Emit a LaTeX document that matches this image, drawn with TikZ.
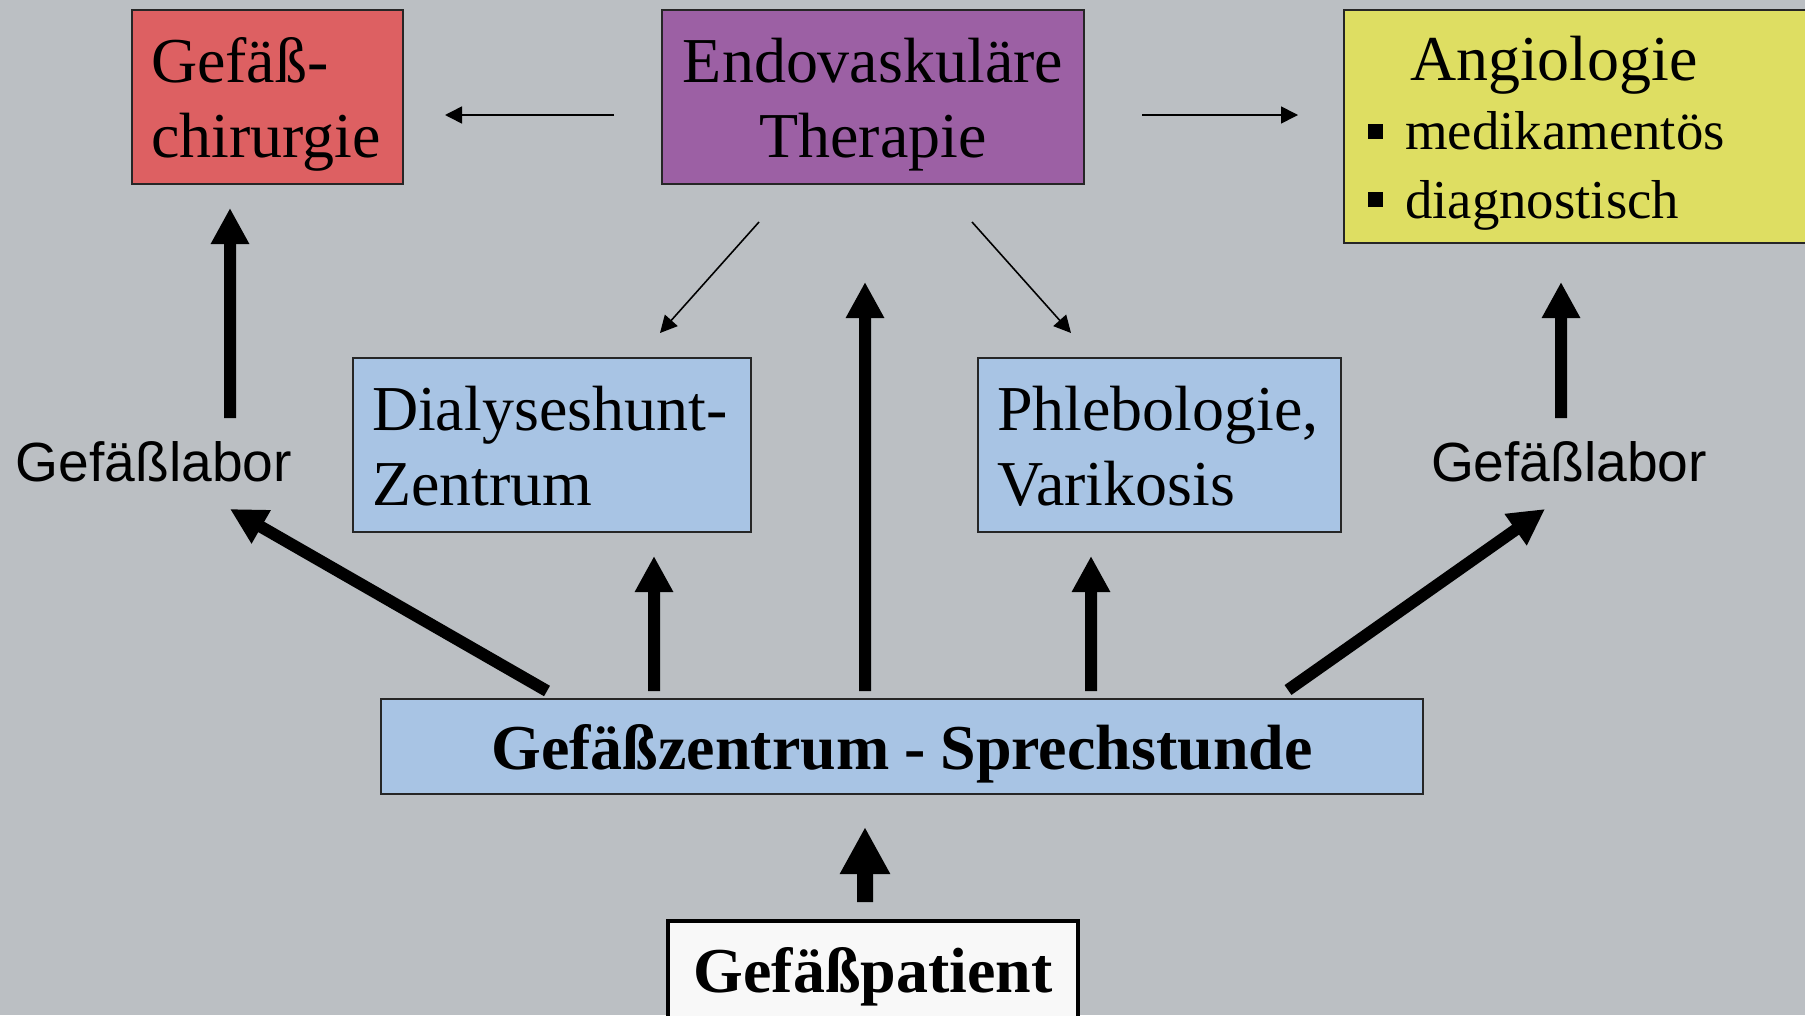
\documentclass[tikz,border=0pt]{standalone}
\usepackage{fontspec}
\setmainfont{Liberation Serif}
\setsansfont{Liberation Sans}
\usetikzlibrary{arrows.meta}
\definecolor{slidegray}{RGB}{187,191,195}
\definecolor{chircol}{RGB}{221,96,98}
\definecolor{endocol}{RGB}{156,96,164}
\definecolor{angiocol}{RGB}{222,222,98}
\definecolor{zentrumcol}{RGB}{168,196,228}
\definecolor{patcol}{RGB}{248,248,248}
\newcommand{\sqbullet}{\rule[0.11cm]{0.15cm}{0.15cm}\hspace{0.22cm}}
% struts so that text sits at the top like in the slide
\newcommand{\hstrut}{\rule{0pt}{0.62cm}}
\newcommand{\dstrut}{\rule[-0.16cm]{0pt}{0.16cm}}

\begin{document}
\begin{tikzpicture}
\useasboundingbox (0,0) rectangle (18.05,10.15);
\fill[slidegray] (0,0) rectangle (18.05,10.15);

\begin{scope}[every node/.style={draw=black!85,line width=0.5pt,minimum height=1.74cm,
              inner xsep=0.19cm,inner ysep=0pt,font=\fontsize{18.2}{21.5}\selectfont}]
    \node[fill=chircol,text width=2.33cm,align=left] (chir) at (2.675,9.18) {\hstrut Gefäß-\\chirurgie\dstrut};
    \node[fill=endocol,text width=3.84cm,align=center] (endo) at (8.73,9.18) {\hstrut Endovaskuläre\\Therapie\dstrut};
    \node[fill=angiocol,text width=4.3cm,minimum height=2.33cm,align=left,inner xsep=0.24cm,
          font=\fontsize{18.2}{19.5}\selectfont] (angio) at (15.83,8.885)
          {\hstrut\hspace*{0.42cm}Angiologie\\{\fontsize{15.6}{19.5}\selectfont\sqbullet medikamentös\\\sqbullet diagnostisch\dstrut}};
    \node[fill=zentrumcol,text width=3.6cm,align=left] (dial) at (5.52,5.70) {\hstrut Dialyseshunt-\\Zentrum\dstrut};
    \node[fill=zentrumcol,text width=3.25cm,align=left] (phleb) at (11.595,5.70) {\hstrut Phlebologie,\\Varikosis\dstrut};
    \node[fill=zentrumcol,text width=10.04cm,minimum height=0.95cm,align=center,
          font=\bfseries\fontsize{18.2}{21.5}\selectfont] (sprech) at (9.02,2.685)
          {\hstrut Gefäßzentrum\hspace{0.15cm}-\hspace{0.15cm}Sprechstunde\dstrut};
    \node[fill=patcol,line width=1.4pt,draw=black,text width=3.72cm,minimum height=1.12cm,align=center,
          font=\bfseries\fontsize{18.2}{21.5}\selectfont] (pat) at (8.73,0.38) {Gefäßpatient};
\end{scope}

\begin{scope}[every node/.style={inner sep=0pt,font=\sffamily\fontsize{15.7}{18}\selectfont}]
    \node (labL) at (1.54,5.53) {Gefäßlabor};
    \node (labR) at (15.69,5.53) {Gefäßlabor};
\end{scope}

% thin arrows from the endovascular box
\begin{scope}[>={Triangle[width=0.17cm,length=0.17cm]}, line width=0.45pt]
    \path [->] ([shift={(-2.59,-0.18)}]endo.center) edge ([shift={(1.775,-0.18)}]chir.center);
    \path [->] ([shift={(2.69,-0.18)}]endo.center) edge ([shift={(-2.85,0.115)}]angio.center);
    \path [->] ([shift={(-1.14,-1.25)}]endo.center) edge ([shift={(1.08,1.12)}]dial.center);
    \path [->] ([shift={(0.99,-1.25)}]endo.center) edge ([shift={(-0.885,1.12)}]phleb.center);
\end{scope}

% thick arrows
\begin{scope}[>={Triangle[width=0.36cm,length=0.36cm]}, line width=0.12cm]
    \path [->] ([shift={(0.76,0.44)}]labL.center) edge ([shift={(-0.375,-1.11)}]chir.center);
    \path [->] ([shift={(-0.08,0.44)}]labR.center) edge ([shift={(-0.22,-1.555)}]angio.center);
    \path [->] ([shift={(-3.55,0.555)}]sprech.center) edge ([shift={(0.76,-0.47)}]labL.center);
    \path [->] ([shift={(-2.48,0.555)}]sprech.center) edge ([shift={(1.02,-1.11)}]dial.center);
    \path [->] ([shift={(-0.37,0.555)}]sprech.center) edge ([shift={(-0.08,-1.85)}]endo.center);
    \path [->] ([shift={(1.89,0.555)}]sprech.center) edge ([shift={(-0.685,-1.11)}]phleb.center);
    \path [->] ([shift={(3.86,0.565)}]sprech.center) edge ([shift={(-0.24,-0.47)}]labR.center);
\end{scope}

\begin{scope}[>={Triangle[width=0.47cm,length=0.47cm]}, line width=0.16cm]
    \path [->] ([shift={(-0.08,0.75)}]pat.center) edge ([shift={(-0.37,-0.805)}]sprech.center);
\end{scope}
\end{tikzpicture}
\end{document}
